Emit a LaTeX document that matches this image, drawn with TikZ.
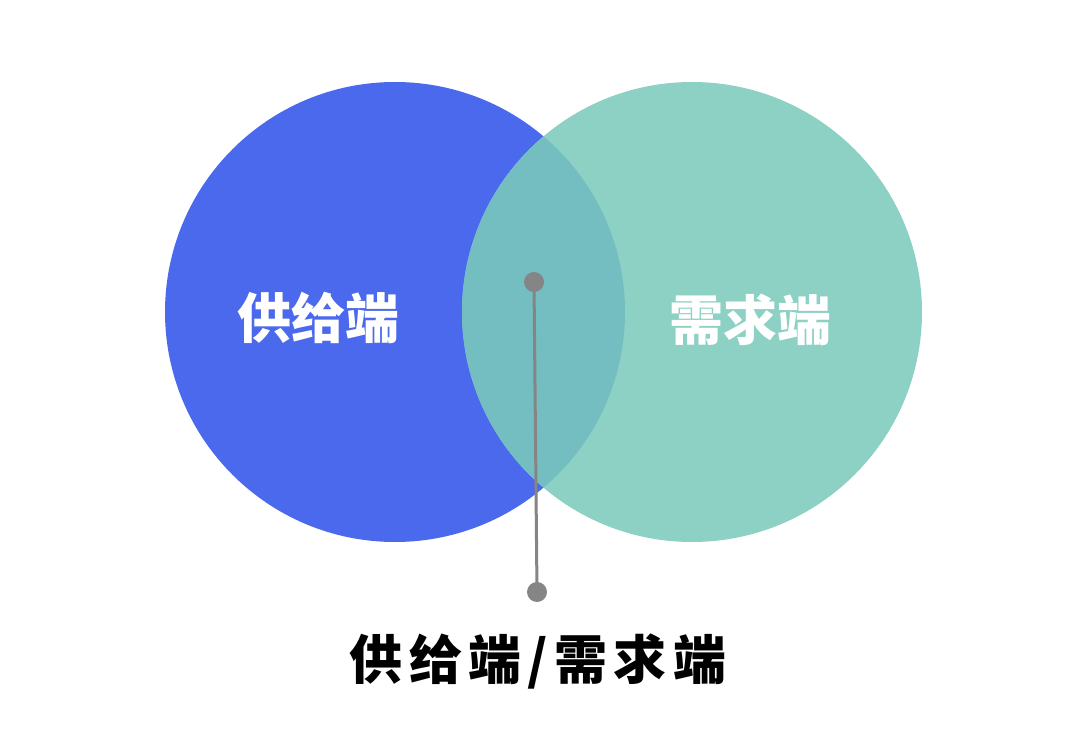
\documentclass[tikz,border=0pt]{standalone}
\usepackage{fontspec}
\newfontfamily\cjk{Noto Sans CJK SC}
\newfontfamily\cjkwide{Noto Sans CJK SC}[LetterSpace=12]
\definecolor{supplyblue}{HTML}{4A69EC}
\definecolor{demandteal}{HTML}{8CD1C3}
\definecolor{bothteal}{HTML}{74BEC1}
\definecolor{pingray}{HTML}{858585}
\tikzset{
	pin dot/.style={circle, fill=pingray, inner sep=0pt, minimum size=20pt},
	side label/.style={text=white, font=\cjk\bfseries\fontsize{54}{54}\selectfont},
}
\begin{document}
\begin{tikzpicture}[x=1pt, y=-1pt]
			\useasboundingbox[fill=white] (0,0) rectangle (1080,754);
			
			%Two circles
			\def\r{230}
			\fill[supplyblue] (395,312) circle (\r);
			\fill[demandteal] (692,312) circle (\r);
			\begin{scope}
				\clip (395,312) circle (\r);
				\fill[bothteal] (692,312) circle (\r);
			\end{scope}
			
			\node[side label] (S) at (318,318) {供给端};
			\node[side label] (D) at (750,320) {需求端};
			
			%Pin line
			\node[pin dot] (P1) at (534,282) {};
			\node[pin dot] (P2) at (537,592) {};
			\draw[pingray, line width=3pt] (P1.center) -- (P2.center);
			
			\node[font=\cjkwide\bfseries\fontsize{53}{53}\selectfont] (L) at (538,662) {供给端/需求端};
		\end{tikzpicture}
\end{document}
